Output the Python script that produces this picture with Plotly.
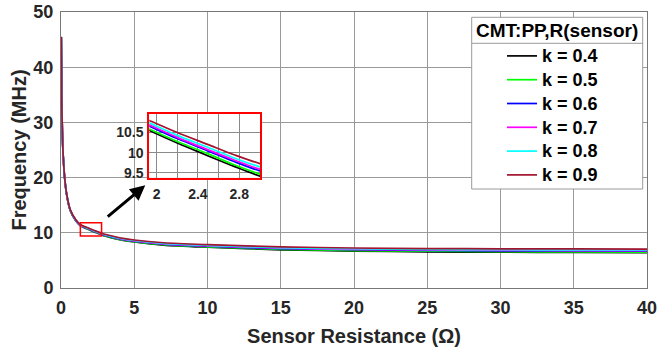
import plotly.graph_objects as go

# Sensor resistance (Ohm) sample points
R = [0.02, 0.05, 0.1, 0.15, 0.25, 0.4, 0.63, 1.0, 1.32, 1.93, 2.2, 2.5, 2.75, 3.0,
     4, 5, 7, 10, 15, 20, 25, 30, 35, 40]

# Frequency (MHz) for each coupling coefficient k
f_k04 = [45.41, 34.41, 27.41, 23.91, 19.91, 16.68, 14.05, 12.21, 11.28, 10.55, 10.24, 9.92, 9.66, 9.42,
         8.76, 8.33, 7.78, 7.39, 6.92, 6.69, 6.56, 6.48, 6.43, 6.40]
f_k05 = [45.42, 34.42, 27.42, 23.92, 19.92, 16.70, 14.07, 12.24, 11.32, 10.59, 10.28, 9.97, 9.70, 9.47,
         8.81, 8.39, 7.85, 7.46, 7.01, 6.78, 6.66, 6.58, 6.54, 6.50]
f_k06 = [45.45, 34.45, 27.45, 23.95, 19.95, 16.73, 14.11, 12.29, 11.37, 10.66, 10.35, 10.04, 9.78, 9.55,
         8.90, 8.48, 7.96, 7.58, 7.14, 6.93, 6.81, 6.74, 6.70, 6.67]
f_k07 = [45.46, 34.46, 27.46, 23.96, 19.96, 16.74, 14.13, 12.32, 11.40, 10.69, 10.38, 10.07, 9.82, 9.59,
         8.95, 8.53, 8.01, 7.64, 7.21, 7.00, 6.88, 6.82, 6.78, 6.76]
f_k08 = [45.48, 34.48, 27.48, 23.98, 19.98, 16.77, 14.16, 12.35, 11.44, 10.74, 10.43, 10.13, 9.87, 9.65,
         9.01, 8.60, 8.09, 7.73, 7.31, 7.11, 7.00, 6.94, 6.91, 6.88]
f_k09 = [45.5, 34.5, 27.5, 24.0, 20.0, 16.8, 14.2, 12.4, 11.5, 10.8, 10.5, 10.2, 9.95, 9.73,
         9.1, 8.7, 8.2, 7.85, 7.45, 7.25, 7.15, 7.1, 7.07, 7.05]

series_names = ["k = 0.4", "k = 0.5", "k = 0.6", "k = 0.7", "k = 0.8", "k = 0.9"]
series_values = [f_k04, f_k05, f_k06, f_k07, f_k08, f_k09]
series_colors = ["#000000", "#00FF00", "#0000FF", "#FF00FF", "#00FFFF", "#A2142F"]

x_ticks = [0, 5, 10, 15, 20, 25, 30, 35, 40]
y_ticks = [0, 10, 20, 30, 40, 50]
inset_x_ticks = [2, 2.2, 2.4, 2.6, 2.8, 3.0]
inset_x_text = ["2", "", "2.4", "", "2.8", ""]
inset_y_ticks = [9.5, 10, 10.5]
inset_y_text = ["9.5", "10", "10.5"]

legend_title = "CMT:PP,R(sensor)"
FONT = "Liberation Sans, Arial, sans-serif"
TXT = "#262626"

fig = go.Figure()
for name, vals, col in zip(series_names, series_values, series_colors):
    fig.add_trace(go.Scatter(x=R, y=vals, mode="lines", name='<span style="font-size:18px">' + name + '</span>',
                             line=dict(color=col, width=1.7, shape="spline", smoothing=0.8),
                             xaxis="x", yaxis="y"))
for name, vals, col in zip(series_names, series_values, series_colors):
    fig.add_trace(go.Scatter(x=R, y=vals, mode="lines", name=name, showlegend=False,
                             line=dict(color=col, width=1.7, shape="spline", smoothing=0.8),
                             xaxis="x2", yaxis="y2"))

W, H = 659, 347
L, Rm, T, B = 61, 12, 12, 59
pw, ph = W - L - Rm, H - T - B


def px(xp):
    return (xp - L) / pw


def py(yp):
    return (H - B - yp) / ph


inset_xr = [1.93, 3.0]
inset_yr = [9.38, 10.96]

fig.update_layout(
    width=W, height=H,
    margin=dict(l=L, r=Rm, t=T, b=B, autoexpand=False),
    paper_bgcolor="white", plot_bgcolor="white",
    font=dict(family=FONT, color=TXT, weight="bold"),
    showlegend=True,
    legend=dict(x=px(502), y=py(39), xanchor="left", yanchor="top",
                bgcolor="rgba(0,0,0,0)", borderwidth=0,
                font=dict(family=FONT, size=16, color="#000", weight="bold"),
                itemwidth=30),
    xaxis=dict(domain=[0, 1], range=[0, 40], tickvals=x_ticks, showgrid=True, automargin=False,
               gridcolor="#9a9a9a", gridwidth=1, zeroline=False,
               showline=True, linecolor="#777", linewidth=1, mirror=True,
               ticks="", tickfont=dict(size=18, family=FONT, weight="bold", color=TXT),
               ticklabelstandoff=3,
               title=dict(text="Sensor Resistance (Ω)", font=dict(size=20, family=FONT, weight="bold", color=TXT),
                          standoff=12)),
    yaxis=dict(domain=[0, 1], range=[0, 50], tickvals=y_ticks, showgrid=True, automargin=False,
               gridcolor="#9a9a9a", gridwidth=1, zeroline=False,
               showline=True, linecolor="#777", linewidth=1, mirror=True,
               ticks="", tickfont=dict(size=18, family=FONT, weight="bold", color=TXT),
               ticklabelstandoff=3,
               title=dict(text="Frequency (MHz)", font=dict(size=20, family=FONT, weight="bold", color=TXT),
                          standoff=1)),
    xaxis2=dict(domain=[px(149.3), px(260)], anchor="y2", range=inset_xr, automargin=False,
                tickvals=inset_x_ticks, ticktext=inset_x_text, showgrid=True,
                gridcolor="#8a8a8a", gridwidth=1, zeroline=False,
                showline=True, linecolor="#FF0000", linewidth=2, mirror=True, ticks="",
                ticklabelstandoff=2,
                tickfont=dict(size=14, family=FONT, weight="bold", color=TXT)),
    yaxis2=dict(domain=[py(177.7), py(114)], anchor="x2", range=inset_yr, automargin=False,
                tickvals=inset_y_ticks, ticktext=inset_y_text, showgrid=True,
                gridcolor="#8a8a8a", gridwidth=1, zeroline=False,
                showline=True, linecolor="#FF0000", linewidth=2, mirror=True, ticks="",
                ticklabelstandoff=1,
                tickfont=dict(size=14, family=FONT, weight="bold", color=TXT)),
)

shapes = [
    # white background of the inset
    dict(type="rect", xref="x2", yref="y2", x0=inset_xr[0], x1=inset_xr[1], y0=inset_yr[0], y1=inset_yr[1],
         fillcolor="white", line=dict(width=0), layer="below"),
    # zoom region marker on the main plot
    dict(type="rect", xref="x", yref="y", x0=1.32, x1=2.77, y0=9.4, y1=11.8,
         line=dict(color="#FF0000", width=1.5), fillcolor="rgba(0,0,0,0)", layer="above"),
    # legend box
    dict(type="rect", xref="paper", yref="paper", x0=px(471.7), x1=px(642.7), y0=py(189), y1=py(17.3),
         fillcolor="white", line=dict(color="#9a9a9a", width=1), layer="above"),
    dict(type="line", xref="paper", yref="paper", x0=px(471.7), x1=px(642.7), y0=py(43.3), y1=py(43.3),
         line=dict(color="#9a9a9a", width=1), layer="above"),
]
fig.update_layout(shapes=shapes)

fig.add_annotation(xref="paper", yref="paper", x=px(557), y=py(31), text=legend_title, showarrow=False,
                   xanchor="center", yanchor="middle",
                   font=dict(family=FONT, size=19, color="#000", weight="bold"))
fig.add_annotation(xref="x", yref="y", axref="x", ayref="y", x=5.75, y=18.6, ax=3.09, ay=12.7,
                   text="", showarrow=True, arrowhead=2, arrowsize=1, arrowwidth=3, arrowcolor="black",
                   standoff=0, startstandoff=0)

fig.write_html("out.html")
